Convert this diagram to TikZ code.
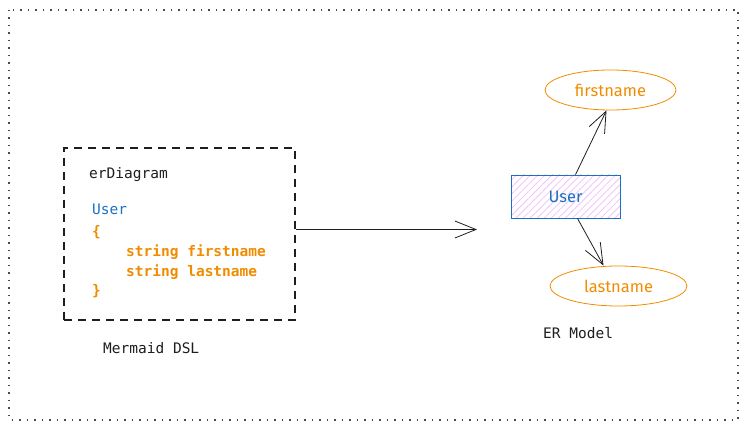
\documentclass[tikz,border=0pt]{standalone}
\usepackage{fontspec}
\setmonofont{DejaVu Sans Mono}
\setsansfont{Fira Sans}
\usetikzlibrary{arrows.meta,shapes.geometric,patterns.meta}
\definecolor{erblue}{HTML}{1971C2}
\definecolor{erorange}{HTML}{F08C00}
\definecolor{erpink}{HTML}{EEC4F8}
\definecolor{erink}{HTML}{1E1E1E}
\begin{document}
\begin{tikzpicture}
      [x=1pt,y=-1pt,
      code/.style={font=\ttfamily\fontsize{14.5}{16}\selectfont, anchor=west, inner sep=0pt, text=erink},
      attr/.style={ellipse, draw=erorange, thick, text=erorange, font=\sffamily\fontsize{16.5}{18}\selectfont, minimum height=40pt},
      link/.style={draw=erink, thick, -{Straight Barb[length=21pt,width=17pt]}}]
      \useasboundingbox (0,0) rectangle (748,430);
      \draw[erink!80, line width=1.5pt, dash pattern=on 1.5pt off 6pt] (9,10) rectangle (738,420);
      % mermaid side
      \node[draw=erink, line width=1.3pt, dash pattern=on 8pt off 6pt, minimum width=231pt, minimum height=172pt] (dsl) at (179.5,234) {};
      \node[code] (head) at (89,175) {erDiagram};
      \node[code, text=erblue] (ent) at (92,209) {User};
      \node[code, text=erorange, font=\ttfamily\bfseries\fontsize{14.5}{16}\selectfont] (open) at (92,232) {\{};
      \node[code, text=erorange, font=\ttfamily\bfseries\fontsize{14.5}{16}\selectfont] (fld1) at (126,252) {string firstname};
      \node[code, text=erorange, font=\ttfamily\bfseries\fontsize{14.5}{16}\selectfont] (fld2) at (126,272) {string lastname};
      \node[code, text=erorange, font=\ttfamily\bfseries\fontsize{14.5}{16}\selectfont] (close) at (92,291) {\}};
      \node[code] (dsllabel) at (103,348) {Mermaid DSL};
      % er side
      \node[draw=erblue, thick, pattern={Lines[angle=45,distance=5pt,line width=0.8pt]}, pattern color=erpink, minimum width=109pt, minimum height=43pt] (user) at (565.5,196.5) {};
      \node[text=erblue, font=\sffamily\fontsize{16.5}{18}\selectfont] at (user) {User};
      \node[attr, minimum width=131pt] (first) at (610.5,90) {firstname};
      \node[attr, minimum width=137pt] (last) at (618.5,286) {lastname};
      \node[code] (erlabel) at (543,333) {ER Model};
      \coordinate (tip) at (477,229.5);
      \draw[link] (dsl.east |- tip) -- (tip);
      \draw[link] ([xshift=10pt]user.north) -- ([xshift=-4pt]first.south);
      \draw[link] ([xshift=12pt]user.south) -- ([xshift=-15pt]last.north);
    \end{tikzpicture}
\end{document}
